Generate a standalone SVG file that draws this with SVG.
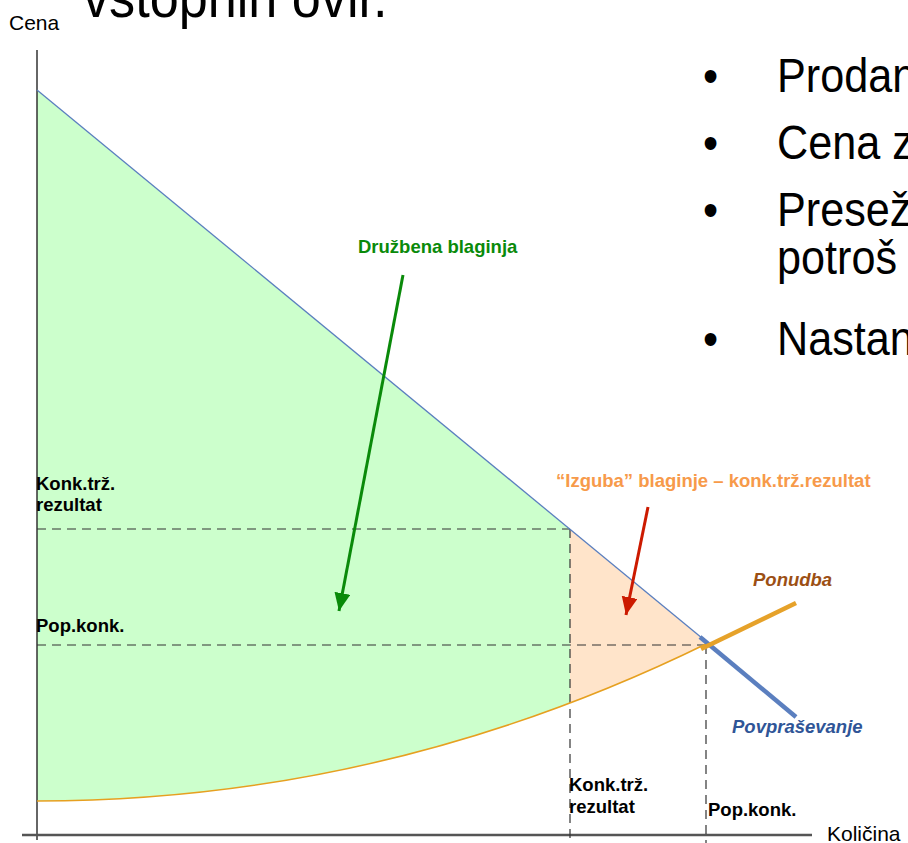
<svg xmlns="http://www.w3.org/2000/svg" width="908" height="843" viewBox="0 0 908 843">
<style>
.big{font-family:"Liberation Sans",Arial,sans-serif;font-size:48px;fill:#000}
.ax{font-family:"Liberation Sans",Arial,sans-serif;font-size:21px;fill:#000}
.lb{font-family:"Liberation Sans",Arial,sans-serif;font-size:18.5px;font-weight:bold;fill:#000}
.dash{stroke:#333;stroke-width:1.2;stroke-dasharray:9 6;fill:none}
</style>
<defs>
<clipPath id="cl"><rect x="0" y="0" width="570" height="843"/></clipPath>
<clipPath id="cr"><rect x="570" y="0" width="338" height="843"/></clipPath>
<marker id="ag" markerUnits="userSpaceOnUse" markerWidth="20" markerHeight="18" refX="18" refY="8" orient="auto"><path d="M0,0 L18,8 L0,16 Z" fill="#0A8A0A"/></marker>
<marker id="ar" markerUnits="userSpaceOnUse" markerWidth="20" markerHeight="18" refX="18" refY="8" orient="auto"><path d="M0,0 L18,8 L0,16 Z" fill="#CC1A00"/></marker>
</defs>
<rect width="908" height="843" fill="#fff"/>
<g id="title">
<text class="big" transform="translate(83,17) scale(0.9,1)" style="font-size:58px">vstopnih ovir.</text>
</g>
<g id="bullets">
<text class="big" transform="translate(703,92) scale(0.9,1)">•</text>
<text class="big" transform="translate(777,92) scale(0.9,1)">Prodan</text>
<text class="big" transform="translate(703,159) scale(0.9,1)">•</text>
<text class="big" transform="translate(777,159) scale(0.9,1)">Cena z</text>
<text class="big" transform="translate(703,226) scale(0.9,1)">•</text>
<text class="big" transform="translate(777,226) scale(0.9,1)">Presež</text>
<text class="big" transform="translate(777,274) scale(0.9,1)">potroš</text>
<text class="big" transform="translate(703,355) scale(0.9,1)">•</text>
<text class="big" transform="translate(777,355) scale(0.9,1)">Nastan</text>
</g>
<g id="areas">
<path id="welfare" d="M37,90 L708,643 Q386,801 37,801 Z" fill="#CCFFCC" clip-path="url(#cl)"/>
<path id="loss" d="M37,90 L708,643 Q386,801 37,801 Z" fill="#FFE4CA" clip-path="url(#cr)"/>
</g>
<g id="axes">
<line x1="37" y1="50" x2="37" y2="840" stroke="#333" stroke-width="1.5"/>
<line x1="22" y1="835" x2="812" y2="835" stroke="#555" stroke-width="2.5"/>
<text class="ax" x="9" y="30">Cena</text>
<text class="ax" x="827" y="841">Količina</text>
</g>
<g id="guides">
<line class="dash" x1="37" y1="529" x2="570" y2="529"/>
<line class="dash" x1="37" y1="645" x2="706" y2="645"/>
<line class="dash" x1="570" y1="529" x2="570" y2="843"/>
<line class="dash" x1="706" y1="645" x2="706" y2="843"/>
</g>
<g id="curves">
<line x1="37" y1="90" x2="708" y2="643" stroke="#5B7FBF" stroke-width="1.3"/>
<path d="M37,801 Q386,801 708,643" fill="none" stroke="#E6A020" stroke-width="1.5"/>
<line x1="700" y1="637" x2="796" y2="717" stroke="#5B7FBF" stroke-width="4.5"/>
<line x1="701" y1="649" x2="796" y2="603" stroke="#E6A22A" stroke-width="4.5"/>
</g>
<g id="connectors">
<line x1="403" y1="275" x2="339" y2="611" stroke="#0A8A0A" stroke-width="3" marker-end="url(#ag)"/>
<line x1="648" y1="507" x2="626" y2="615" stroke="#CC1A00" stroke-width="3" marker-end="url(#ar)"/>
</g>
<g id="labels">
<text class="lb" x="36" y="490">Konk.trž.</text>
<text class="lb" x="36" y="511">rezultat</text>
<text class="lb" x="36" y="632">Pop.konk.</text>
<text class="lb" x="569" y="791">Konk.trž.</text>
<text class="lb" x="569" y="813">rezultat</text>
<text class="lb" x="708" y="816">Pop.konk.</text>
<text class="lb" x="358" y="253" style="fill:#0A8A0A">Družbena blaginja</text>
<text class="lb" x="556" y="487" style="fill:#F79A4A">“Izguba” blaginje – konk.trž.rezultat</text>
<text class="lb" x="753" y="586" style="fill:#9C4F14;font-style:italic">Ponudba</text>
<text class="lb" x="732" y="733" style="fill:#2F5597;font-style:italic">Povpraševanje</text>
</g>
</svg>
